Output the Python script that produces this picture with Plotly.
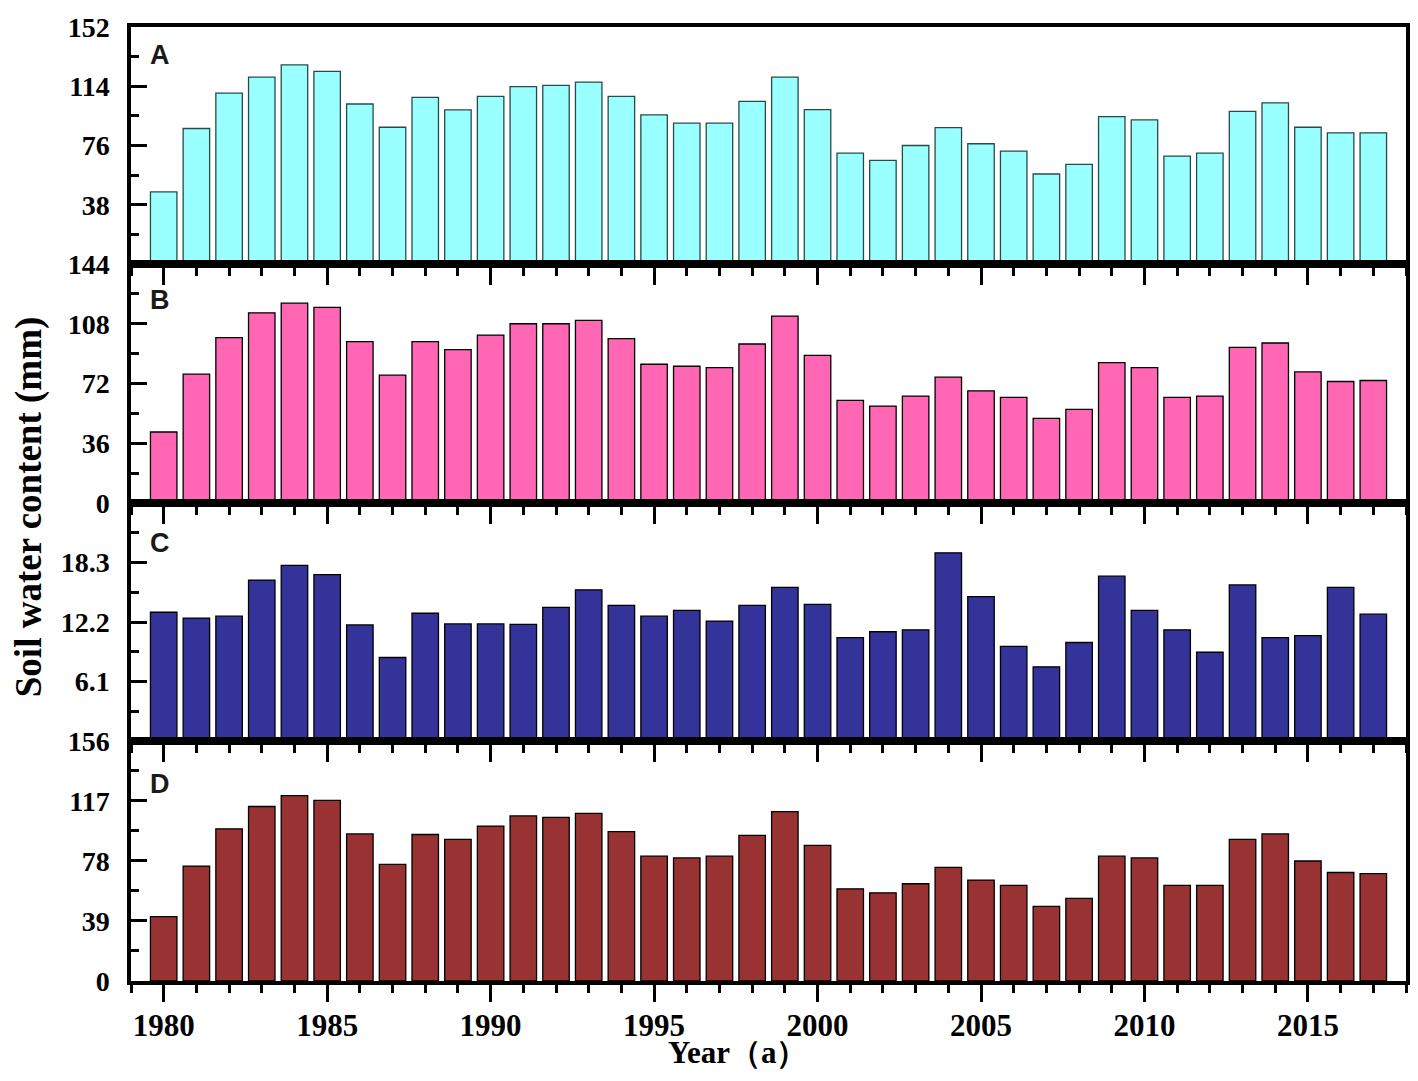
import plotly.graph_objects as go

years = list(range(1980, 2018))

panel_a = [46.2, 86.9, 109.6, 119.9, 127.7, 123.5, 102.6, 87.7, 106.9, 98.8,
           107.5, 113.7, 114.5, 116.7, 107.5, 95.6, 90.3, 90.3, 104.3, 119.9,
           99.0, 71.1, 66.4, 76.0, 87.5, 77.1, 72.4, 57.7, 63.9, 94.5,
           92.4, 69.2, 71.1, 97.9, 103.3, 87.7, 84.1, 84.1]
panel_b = [42.8, 77.6, 99.6, 114.6, 120.4, 117.8, 97.2, 77.0, 97.2, 92.4,
           101.2, 108.0, 108.0, 110.0, 99.0, 83.6, 82.4, 81.6, 95.8, 112.6,
           89.0, 61.8, 58.4, 64.4, 75.8, 67.6, 63.6, 51.0, 56.4, 84.6,
           81.6, 63.6, 64.4, 93.8, 96.4, 79.0, 73.2, 73.8]
panel_c = [13.2, 12.6, 12.8, 16.5, 18.0, 17.05, 11.9, 8.56, 13.1, 12.0,
           12.0, 11.95, 13.7, 15.5, 13.9, 12.8, 13.4, 12.3, 13.9, 15.75,
           14.0, 10.6, 11.2, 11.4, 19.3, 14.8, 9.7, 7.6, 10.1, 16.9,
           13.4, 11.4, 9.1, 16.0, 10.6, 10.8, 15.75, 13.0]
panel_d = [41.9, 74.7, 98.9, 113.4, 120.5, 117.4, 95.6, 75.8, 95.2, 92.1,
           100.7, 107.3, 106.4, 109.0, 97.1, 81.1, 80.0, 81.1, 94.7, 110.1,
           88.1, 59.9, 57.3, 63.2, 73.8, 65.6, 62.1, 48.5, 53.7, 81.1,
           80.0, 62.1, 62.1, 92.1, 95.6, 78.0, 70.5, 69.8]

panel_labels = ["A", "B", "C", "D"]
a_ticks = [38, 76, 114, 152]
a_minor = [19, 57, 95, 133]
b_ticks = [0, 36, 72, 108, 144]
b_minor = [18, 54, 90, 126]
c_ticks = [6.1, 12.2, 18.3]
c_ticktext = ["6.1", "12.2", "18.3"]
c_minor = [3.05, 9.15, 15.25, 21.35]
d_ticks = [0, 39, 78, 117, 156]
d_minor = [19.5, 58.5, 97.5, 136.5]
x_ticks = [1980, 1985, 1990, 1995, 2000, 2005, 2010, 2015]

y_title = "Soil water content (mm)"
x_title = "Year\uff08a\uff09"

series = [panel_a, panel_b, panel_c, panel_d]
colors = ["#99FFFF", "#FF66B3", "#333399", "#993333"]
edge = ["#2a4a4a", "#000000", "#000000", "#000000"]
ranges = [[0, 152], [0, 144], [0, 24.4], [0, 156]]
tickvals = [a_ticks, b_ticks, c_ticks, d_ticks]
ticktexts = [[str(v) for v in a_ticks], [str(v) for v in b_ticks], c_ticktext, [str(v) for v in d_ticks]]
minors = [a_minor, b_minor, c_minor, d_minor]
domains = [[0.7516, 1.0], [0.5010, 0.7516], [0.2516, 0.5010], [0.0, 0.2516]]
letter_y = [1 - 28 / 238, 1 - 36 / 239, 1 - 40 / 238, 1 - 43 / 240]

serif = "Liberation Serif"
fig = go.Figure()
# page body has an 8px margin; figure sized/margined so the plot area lands at
# x 131..1410, y 27..981 in the window
layout = dict(
    width=1404, height=1065,
    margin=dict(l=123, r=2, t=19, b=92),
    plot_bgcolor="white", paper_bgcolor="white",
    showlegend=False, bargap=0.19,
)
annotations = []
for i in range(4):
    n = "" if i == 0 else str(i + 1)
    fig.add_trace(go.Bar(
        x=years, y=series[i], xaxis="x" + n, yaxis="y" + n,
        marker=dict(color=colors[i], line=dict(color=edge[i], width=1.3)),
    ))
    layout["xaxis" + n] = dict(
        range=[1979, 2018], domain=[0, 1], anchor="y" + n,
        tickmode="array", tickvals=x_ticks,
        showticklabels=(i == 3),
        ticks="outside", ticklen=17, tickwidth=3, tickcolor="black",
        minor=dict(ticks="outside", ticklen=8, tickwidth=3, tickcolor="black",
                   tickmode="linear", tick0=1980, dtick=1),
        showline=True, linewidth=3.5, linecolor="black", mirror=True,
        showgrid=False, zeroline=False,
        tickfont=dict(family=serif, size=31, color="black", weight=700),
        ticklabelstandoff=-3,
    )
    if i > 0:
        layout["xaxis" + n]["matches"] = "x"
    layout["yaxis" + n] = dict(
        range=ranges[i], domain=domains[i], anchor="x" + n,
        tickmode="array", tickvals=tickvals[i], ticktext=ticktexts[i],
        ticks="inside", ticklen=16, tickwidth=3, tickcolor="black",
        minor=dict(ticks="inside", ticklen=8, tickwidth=3, tickcolor="black",
                   tickmode="array", tickvals=minors[i]),
        showline=True, linewidth=3.5, linecolor="black", mirror=True,
        showgrid=False, zeroline=False,
        tickfont=dict(family=serif, size=28, color="black", weight=700),
        ticklabelstandoff=12,
    )
    annotations.append(dict(
        text=panel_labels[i], xref=("x" + n + " domain"), yref=("y" + n + " domain"),
        x=0.0133, y=letter_y[i], xanchor="left", yanchor="middle", showarrow=False,
        font=dict(family="Liberation Sans", size=27, color="#1a1a1a", weight=700),
    ))

# y title centred at window x ~28 (figure x ~20)
annotations.append(dict(
    text=y_title, xref="paper", yref="paper", x=-0.0805, y=0.497,
    xanchor="center", yanchor="middle", textangle=-90, showarrow=False,
    font=dict(family=serif, size=37, color="black", weight=700),
))
# x title kept inside the figure's bottom edge
annotations.append(dict(
    text=x_title, xref="paper", yref="paper", x=0.476, y=-0.0745,
    xanchor="center", yanchor="middle", showarrow=False,
    font=dict(family=serif, size=31, color="black", weight=700),
))
layout["annotations"] = annotations
fig.update_layout(**layout)
fig.write_html("out.html")
